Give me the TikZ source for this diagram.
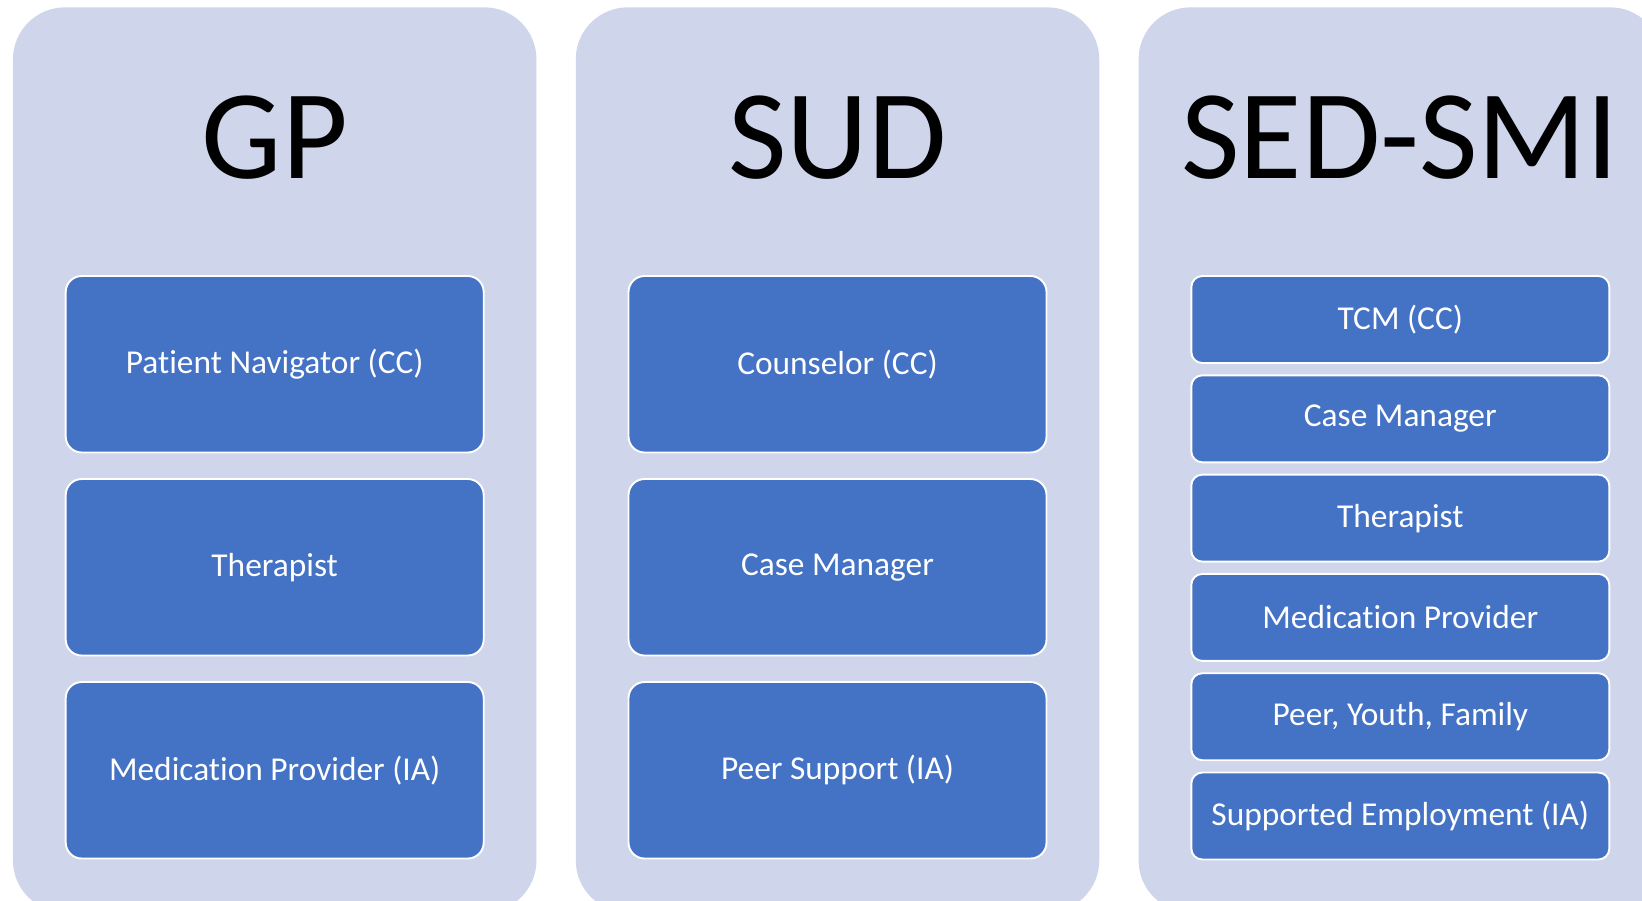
\documentclass[tikz,border=0pt]{standalone}
\usepackage{fontspec}
\setmainfont{Carlito}[Ligatures=NoCommon]
\usetikzlibrary{positioning}
\definecolor{panelbg}{HTML}{CFD5EA}
\definecolor{rolefill}{HTML}{4472C4}

\begin{document}
\begin{tikzpicture}[x=0.2mm, y=-0.2mm,
  panel/.style={fill=panelbg, rounded corners=10.4mm, minimum width=104.7mm, minimum height=181mm, anchor=north west, inner sep=0pt},
  head/.style={font=\fontsize{72.5}{80}\selectfont, anchor=base, inner sep=0pt},
  role/.style={draw=white, line width=1.1pt, fill=rolefill, text=white, rounded corners=3.2mm, minimum width=83.6mm, minimum height=35.3mm, font=\fontsize{19}{22}\selectfont, inner sep=0pt, outer sep=0pt},
  slim/.style={role, rounded corners=2.2mm, minimum height=17.4mm}
]
\useasboundingbox (0,0) rectangle (1642,900);
\clip (0,0) rectangle (1642,900);

% columns
\node[panel] (gp) at (12.6,7) {};
\node[panel] (sud) at (575.4,7) {};
\node[panel] (sed) at (1138.2,7) {};

\node[head] (gpT) at ([yshift=-34.2mm]gp.north) {GP};
\node[head] (sudT) at ([yshift=-34.2mm]sud.north) {SUD};
\node[head] (sedT) at ([yshift=-34.2mm]sed.north) {SED-SMI};

% GP
\node[role, below=53.8mm of gp.north, anchor=north] (gp1) {Patient Navigator (CC)};
\node[role, below=5.3mm of gp1] (gp2) {Therapist};
\node[role, below=5.3mm of gp2] (gp3) {Medication Provider (IA)};

% SUD
\node[role, below=53.8mm of sud.north, anchor=north] (sud1) {Counselor (CC)};
\node[role, below=5.3mm of sud1] (sud2) {Case Manager};
\node[role, below=5.3mm of sud2] (sud3) {Peer Support (IA)};

% SED-SMI
\node[slim, below=53.8mm of sed.north, anchor=north] (sed1) {TCM (CC)};
\node[slim, below=2.46mm of sed1] (sed2) {Case Manager};
\node[slim, below=2.46mm of sed2] (sed3) {Therapist};
\node[slim, below=2.46mm of sed3] (sed4) {Medication Provider};
\node[slim, below=2.46mm of sed4] (sed5) {Peer, Youth, Family};
\node[slim, below=2.46mm of sed5] (sed6) {Supported Employment (IA)};
\end{tikzpicture}
\end{document}
